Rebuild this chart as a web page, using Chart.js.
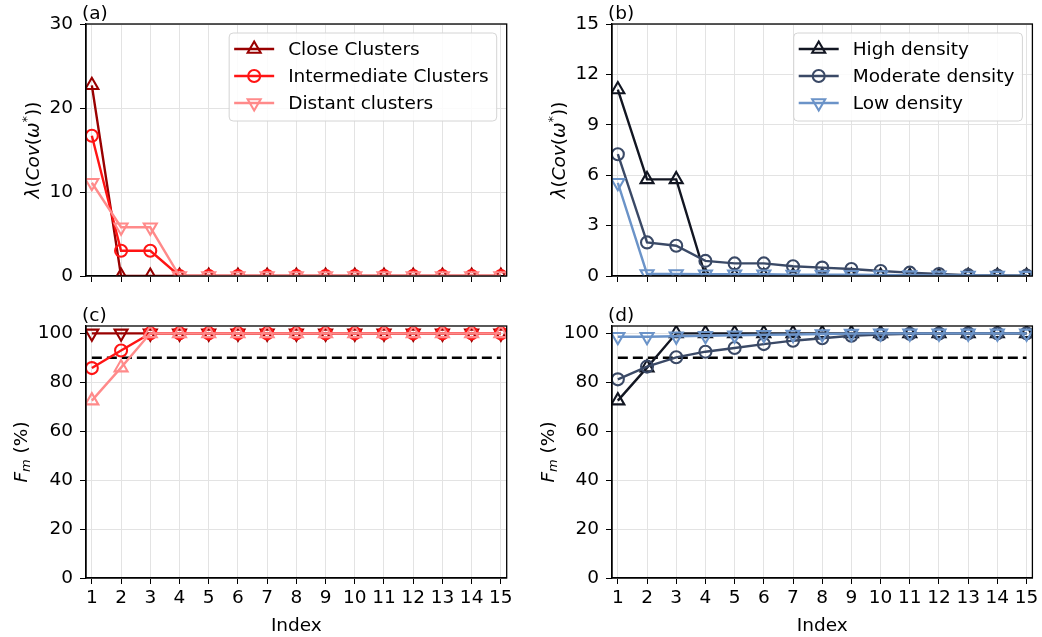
<!DOCTYPE html>
<html>
<head>
<meta charset="utf-8">
<script src="https://cdn.jsdelivr.net/npm/chart.js@4/dist/chart.umd.min.js"></script>
<style>
    body { margin: 0; background: #fff; }
    #wrap { position: relative; width: 1042px; height: 637px; }
    canvas { position: absolute; }
</style>
</head>
<body>
<div id="wrap">
    <canvas id="chartA" width="520" height="300" style="left:0;top:0"></canvas>
    <canvas id="chartB" width="522" height="300" style="left:520px;top:0"></canvas>
    <canvas id="chartC" width="520" height="337" style="left:0;top:300px"></canvas>
    <canvas id="chartD" width="522" height="337" style="left:520px;top:300px"></canvas>
</div>
<script>
// x values shared by every panel
const indexLabels = [1, 2, 3, 4, 5, 6, 7, 8, 9, 10, 11, 12, 13, 14, 15];

// (a) eigenvalues, cluster separation
const closeEig    = [22.7, 0, 0, 0, 0, 0, 0, 0, 0, 0, 0, 0, 0, 0, 0];
const interEig    = [16.7, 3.0, 3.0, 0, 0, 0, 0, 0, 0, 0, 0, 0, 0, 0, 0];
const distantEig  = [11.1, 5.8, 5.8, 0, 0, 0, 0, 0, 0, 0, 0, 0, 0, 0, 0];

// (b) eigenvalues, density
const highEig     = [11.1, 5.75, 5.75, 0, 0, 0, 0, 0, 0, 0, 0, 0, 0, 0, 0];
const moderateEig = [7.25, 2.0, 1.8, 0.9, 0.75, 0.75, 0.58, 0.5, 0.42, 0.3, 0.2, 0.12, 0.05, 0.03, 0.02];
const lowEig      = [5.55, 0.12, 0.12, 0.1, 0.1, 0.1, 0.08, 0.08, 0.07, 0.06, 0.05, 0.04, 0.03, 0.02, 0.02];

// (c) Fm, cluster separation
const closeFm     = [100, 100, 100, 100, 100, 100, 100, 100, 100, 100, 100, 100, 100, 100, 100];
const interFm     = [85.8, 93.0, 100, 100, 100, 100, 100, 100, 100, 100, 100, 100, 100, 100, 100];
const distantFm   = [72.5, 86.0, 100, 100, 100, 100, 100, 100, 100, 100, 100, 100, 100, 100, 100];

// (d) Fm, density
const highFm      = [72.5, 86.0, 100, 100, 100, 100, 100, 100, 100, 100, 100, 100, 100, 100, 100];
const moderateFm  = [81.2, 86.4, 90.2, 92.5, 94.0, 95.6, 97.0, 98.0, 99.0, 99.5, 99.8, 99.9, 100, 100, 100];
const lowFm       = [98.6, 98.6, 98.8, 99.0, 99.2, 99.4, 99.5, 99.7, 99.9, 100, 100, 100, 100, 100, 100];

const thresholdFm = 90;
const fmTicks = [0, 20, 40, 60, 80, 100];

const FONT = "'DejaVu Sans'";
const FS = 18.5;
const colors = {
    close: "#990000", inter: "#ff1414", distant: "#ff8a8a",
    high: "#121622", moderate: "#3a4966", low: "#6b93c8"
};
const LW = 2.4, MW = 2.1, R_CIRCLE = 6, R_TRI = 7.5;

function toPoints(values) {
    return indexLabels.map((x, i) => ({x: x, y: values[i]}));
}

function series(label, values, color, marker, order) {
    return {
        label: label,
        data: toPoints(values),
        borderColor: color,
        borderWidth: LW,
        backgroundColor: "rgba(0,0,0,0)",
        pointStyle: marker == "circle" ? "circle" : "triangle",
        pointRotation: marker == "down" ? 180 : 0,
        pointRadius: marker == "circle" ? R_CIRCLE : R_TRI,
        pointBorderWidth: MW,
        pointBorderColor: color,
        pointBackgroundColor: "rgba(0,0,0,0)",
        order: order
    };
}

function thresholdLine() {
    return {
        label: "threshold",
        data: toPoints(indexLabels.map(() => thresholdFm)),
        borderColor: "#000",
        borderWidth: 2.6,
        borderDash: [10, 5],
        pointRadius: 0,
        order: 10
    };
}

function drawMarker(ctx, marker, x, y, r) {
    ctx.beginPath();
    if (marker == "circle") {
        ctx.arc(x, y, r, 0, Math.PI * 2);
    } else {
        const s = marker == "up" ? 1 : -1;
        ctx.moveTo(x, y - s * r);
        ctx.lineTo(x + r * 0.866, y + s * r * 0.5);
        ctx.lineTo(x - r * 0.866, y + s * r * 0.5);
        ctx.closePath();
    }
    ctx.stroke();
}

// frame, panel tag, y label (mathtext-like pieces) and legend box
function decor(tag, labelParts, labelX, legendItems) {
    return {
        id: "decor",
        afterDatasetsDraw: (chart) => {
            const ctx = chart.ctx;
            const a = chart.chartArea;
            ctx.save();
            ctx.strokeStyle = "#000";
            ctx.lineWidth = 1.3;
            ctx.strokeRect(a.left, a.top, a.right - a.left, a.bottom - a.top);

            ctx.fillStyle = "#000";
            ctx.font = FS + "px " + FONT;
            ctx.textAlign = "left";
            ctx.textBaseline = "alphabetic";
            ctx.fillText(tag, a.left - 4, a.top - 5);

            // rotated y label
            ctx.translate(labelX, (a.top + a.bottom) / 2);
            ctx.rotate(-Math.PI / 2);
            let total = 0;
            labelParts.forEach(p => {
                ctx.font = (p.it ? "italic " : "") + (p.size || FS) + "px " + FONT;
                p.w = ctx.measureText(p.t).width;
                total += p.w;
            });
            let cx = -total / 2;
            labelParts.forEach(p => {
                ctx.font = (p.it ? "italic " : "") + (p.size || FS) + "px " + FONT;
                ctx.fillText(p.t, cx, 7 + (p.dy || 0));
                cx += p.w;
            });
            ctx.restore();

            if (!legendItems) return;
            ctx.save();
            ctx.font = FS + "px " + FONT;
            let maxW = 0;
            legendItems.forEach(it => { maxW = Math.max(maxW, ctx.measureText(it.label).width); });
            const w = 59 + maxW + 8, h = 88;
            const bx = a.right - 10 - w, by = a.top + 9;
            ctx.beginPath();
            ctx.roundRect(bx, by, w, h, 4);
            ctx.fillStyle = "rgba(255,255,255,0.85)";
            ctx.fill();
            ctx.strokeStyle = "#d4d4d4";
            ctx.lineWidth = 1;
            ctx.stroke();
            legendItems.forEach((it, i) => {
                const y = by + 16 + i * 27;
                ctx.strokeStyle = it.color;
                ctx.lineWidth = LW;
                ctx.beginPath();
                ctx.moveTo(bx + 5, y);
                ctx.lineTo(bx + 45, y);
                ctx.stroke();
                ctx.lineWidth = MW;
                drawMarker(ctx, it.marker, bx + 25, y, it.marker == "circle" ? R_CIRCLE : R_TRI);
                ctx.fillStyle = "#000";
                ctx.textBaseline = "middle";
                ctx.fillText(it.label, bx + 59, y + 1);
            });
            ctx.restore();
        }
    };
}

function xScale(showLabels, height) {
    return {
        type: "linear",
        min: 0.8,
        max: 15.2,
        afterBuildTicks: (s) => { s.ticks = indexLabels.map(v => ({value: v})); },
        afterFit: (s) => { s.height = height; },
        grid: { color: "#e3e3e3", lineWidth: 1, tickColor: "#000", tickLength: 6 },
        border: { color: "#000", width: 1.3 },
        ticks: { display: showLabels, color: "#000", padding: 3, maxRotation: 0, autoSkip: false,
                 font: { family: FONT, size: FS } },
        title: { display: showLabels, text: "Index", color: "#000", padding: {top: 0, bottom: 0},
                 font: { family: FONT, size: FS } }
    };
}

function yScale(min, max, tickValues, width) {
    return {
        min: min,
        max: max,
        afterBuildTicks: (s) => { s.ticks = tickValues.map(v => ({value: v})); },
        afterFit: (s) => { s.width = width; },
        grid: { color: "#e3e3e3", lineWidth: 1, tickColor: "#000", tickLength: 6 },
        border: { color: "#000", width: 1.3 },
        ticks: { color: "#000", padding: 7, font: { family: FONT, size: FS } }
    };
}

function makePanel(selector, datasets, x, y, padding, plugin) {
    return new Chart(document.querySelector(selector), {
        type: "line",
        data: { datasets: datasets },
        options: {
            responsive: false,
            animation: false,
            layout: { padding: padding },
            scales: { x: x, y: y },
            plugins: { legend: { display: false }, tooltip: { enabled: false } }
        },
        plugins: [plugin]
    });
}

const eigLabel = [
    {t: "λ", it: true}, {t: "("}, {t: "Cov", it: true}, {t: "("}, {t: "ω", it: true},
    {t: "*", size: 13, dy: -8}, {t: "))"}
];
const fmLabel = [
    {t: "F", it: true}, {t: "m", it: true, size: 13, dy: 3}, {t: " (%)"}
];

const clusterLegend = [
    {label: "Close Clusters", color: colors.close, marker: "up"},
    {label: "Intermediate Clusters", color: colors.inter, marker: "circle"},
    {label: "Distant clusters", color: colors.distant, marker: "down"}
];
const densityLegend = [
    {label: "High density", color: colors.high, marker: "up"},
    {label: "Moderate density", color: colors.moderate, marker: "circle"},
    {label: "Low density", color: colors.low, marker: "down"}
];

makePanel("#chartA", [
        series("Close Clusters", closeEig, colors.close, "up", 2),
        series("Intermediate Clusters", interEig, colors.inter, "circle", 1),
        series("Distant clusters", distantEig, colors.distant, "down", 0)
    ],
    xScale(false, 24), yScale(0, 30, [0, 10, 20, 30], 86),
    {left: 0, top: 24, right: 13.3, bottom: 0},
    decor("(a)", eigLabel, 32, clusterLegend));

makePanel("#chartB", [
        series("High density", highEig, colors.high, "up", 2),
        series("Moderate density", moderateEig, colors.moderate, "circle", 1),
        series("Low density", lowEig, colors.low, "down", 0)
    ],
    xScale(false, 24), yScale(0, 15, [0, 3, 6, 9, 12, 15], 92),
    {left: 0, top: 24, right: 9.3, bottom: 0},
    decor("(b)", eigLabel, 38, densityLegend));

makePanel("#chartC", [
        thresholdLine(),
        series("Close Clusters", closeFm, colors.close, "down", 2),
        series("Intermediate Clusters", interFm, colors.inter, "circle", 1),
        series("Distant clusters", distantFm, colors.distant, "up", 0)
    ],
    xScale(true, 59), yScale(0, 103, fmTicks, 86),
    {left: 0, top: 26, right: 13.3, bottom: 0},
    decor("(c)", fmLabel, 20, null));

makePanel("#chartD", [
        thresholdLine(),
        series("High density", highFm, colors.high, "up", 2),
        series("Moderate density", moderateFm, colors.moderate, "circle", 1),
        series("Low density", lowFm, colors.low, "down", 0)
    ],
    xScale(true, 59), yScale(0, 103, fmTicks, 92),
    {left: 0, top: 26, right: 9.3, bottom: 0},
    decor("(d)", fmLabel, 27, null));
</script>
</body>
</html>
